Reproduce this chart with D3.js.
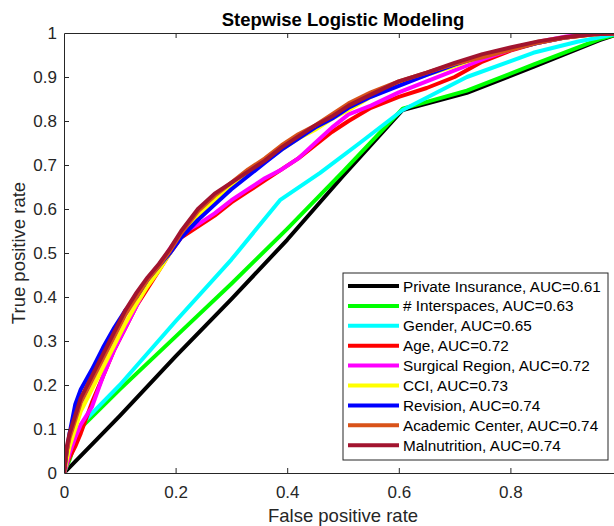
<!DOCTYPE html>
<html>
<head>
<meta charset="utf-8">
<script src="https://cdn.jsdelivr.net/npm/d3@7"></script>
<style>
  body { margin: 0; background: #fff; }
  svg { display: block; font-family: "Liberation Sans", Arial, Helvetica, sans-serif; }
</style>
</head>
<body>
<svg id="chart" width="614" height="526"></svg>
<script>
// shared false positive rate grid for the stepwise model curves
const fprGrid = [0,0.005,0.01,0.02,0.03,0.05,0.07,0.09,0.11,0.13,0.15,0.17,0.19,0.21,0.24,0.27,0.3,0.33,0.36,0.39,0.42,0.45,0.48,0.51,0.55,0.6,0.65,0.7,0.75,0.8,0.85,0.9,0.95,1]

const ageTpr = [0,0.02,0.035,0.06,0.09,0.16,0.22,0.28,0.33,0.38,0.42,0.46,0.5,0.535,0.56,0.585,0.615,0.64,0.665,0.69,0.715,0.745,0.775,0.8,0.83,0.855,0.875,0.9,0.935,0.96,0.978,0.99,0.997,1]
const surgicalTpr = [0,0.02,0.045,0.08,0.11,0.15,0.22,0.28,0.33,0.38,0.43,0.47,0.51,0.545,0.565,0.59,0.62,0.645,0.67,0.69,0.715,0.75,0.785,0.815,0.835,0.865,0.89,0.915,0.94,0.962,0.98,0.992,0.998,1]
const cciTpr = [0,0.03,0.06,0.1,0.14,0.19,0.24,0.29,0.34,0.385,0.425,0.46,0.5,0.54,0.585,0.62,0.65,0.68,0.71,0.735,0.76,0.78,0.805,0.825,0.855,0.885,0.905,0.925,0.948,0.965,0.98,0.99,0.997,1]
const revisionTpr = [0,0.05,0.09,0.155,0.19,0.235,0.285,0.33,0.37,0.4,0.44,0.47,0.5,0.535,0.575,0.61,0.645,0.675,0.705,0.735,0.76,0.785,0.805,0.83,0.855,0.88,0.905,0.928,0.948,0.963,0.978,0.99,0.998,1]
const academicTpr = [0,0.05,0.08,0.12,0.16,0.21,0.26,0.31,0.36,0.4,0.44,0.47,0.505,0.545,0.595,0.63,0.66,0.69,0.715,0.745,0.77,0.79,0.815,0.84,0.865,0.89,0.91,0.93,0.945,0.962,0.978,0.99,0.997,1]
const malnutritionTpr = [0,0.06,0.09,0.13,0.17,0.22,0.27,0.32,0.37,0.41,0.445,0.475,0.51,0.55,0.6,0.635,0.66,0.685,0.71,0.74,0.765,0.79,0.81,0.835,0.86,0.89,0.91,0.932,0.952,0.967,0.981,0.991,0.997,1]

// the first three models have few thresholds, so [fpr, tpr] pairs
const insuranceRoc = [[0,0],[0.1,0.13],[0.2,0.265],[0.3,0.395],[0.4,0.53],[0.5,0.675],[0.607,0.825],[0.722,0.864],[0.841,0.923],[0.96,0.984],[1,1]]
const interspacesRoc = [[0,0],[0.01,0.03],[0.02,0.07],[0.032,0.105],[0.1,0.19],[0.2,0.31],[0.3,0.43],[0.4,0.555],[0.5,0.685],[0.607,0.828],[0.722,0.869],[0.841,0.928],[0.96,0.986],[1,1]]
const genderRoc = [[0,0],[0.01,0.04],[0.02,0.08],[0.032,0.112],[0.1,0.2],[0.2,0.345],[0.3,0.485],[0.387,0.62],[0.459,0.682],[0.53,0.75],[0.607,0.825],[0.722,0.9],[0.841,0.955],[0.92,0.98],[1,1]]

const modelLabels = ['Private Insurance, AUC=0.61', '# Interspaces, AUC=0.63', 'Gender, AUC=0.65', 'Age, AUC=0.72',
    'Surgical Region, AUC=0.72', 'CCI, AUC=0.73', 'Revision, AUC=0.74', 'Academic Center, AUC=0.74', 'Malnutrition, AUC=0.74']
const modelColors = ['#000000', '#00ff00', '#00ffff', '#ff0000', '#ff00ff', '#ffff00', '#0000ff', '#d95319', '#a2142f']

const xTicks = [0, 0.2, 0.4, 0.6, 0.8]
const yTicks = [0, 0.1, 0.2, 0.3, 0.4, 0.5, 0.6, 0.7, 0.8, 0.9, 1]

const gridCurve = tpr => fprGrid.map((f, i) => [f, tpr[i]])
const curves = [insuranceRoc, interspacesRoc, genderRoc, gridCurve(ageTpr), gridCurve(surgicalTpr),
    gridCurve(cciTpr), gridCurve(revisionTpr), gridCurve(academicTpr), gridCurve(malnutritionTpr)]

const svg = d3.select('#chart')
const axisColor = '#262626'
const plot = {left: 64, right: 622, top: 33, bottom: 473}

const x = d3.scaleLinear().domain([0, 1]).range([plot.left, plot.right])
const y = d3.scaleLinear().domain([0, 1]).range([plot.bottom, plot.top])

svg.append('rect').attr('width', 614).attr('height', 526).attr('fill', '#fff')

svg.append('clipPath').attr('id', 'plot-clip')
    .append('rect')
    .attr('x', plot.left).attr('y', plot.top)
    .attr('width', plot.right - plot.left).attr('height', plot.bottom - plot.top)

// curves
const line = d3.line().x(d => x(d[0])).y(d => y(d[1]))
svg.append('g')
    .attr('clip-path', 'url(#plot-clip)')
    .selectAll('path')
    .data(curves)
    .enter()
    .append('path')
    .attr('d', line)
    .attr('fill', 'none')
    .attr('stroke', (d, i) => modelColors[i])
    .attr('stroke-width', 4)
    .attr('stroke-linejoin', 'round')
    .attr('stroke-linecap', 'round')

// axes, ticks point inward like matlab
const bottomAxis = svg.append('g')
    .attr('transform', 'translate(0,' + plot.bottom + ')')
    .call(d3.axisBottom(x).tickValues(xTicks).tickSizeInner(-5).tickSizeOuter(0).tickPadding(13).tickFormat(d3.format('~g')))
const topAxis = svg.append('g')
    .attr('transform', 'translate(0,' + plot.top + ')')
    .call(d3.axisTop(x).tickValues(xTicks.slice(1)).tickSizeInner(-5).tickSizeOuter(0).tickFormat(''))
const leftAxis = svg.append('g')
    .attr('transform', 'translate(' + plot.left + ',0)')
    .call(d3.axisLeft(y).tickValues(yTicks).tickSizeInner(-5).tickSizeOuter(0).tickPadding(7).tickFormat(d3.format('~g')))
const rightAxis = svg.append('g')
    .attr('transform', 'translate(' + plot.right + ',0)')
    .call(d3.axisRight(y).tickValues(yTicks).tickSizeInner(-5).tickSizeOuter(0).tickFormat(''))

;[bottomAxis, topAxis, leftAxis, rightAxis].forEach(g => {
    g.select('.domain').attr('stroke', axisColor).attr('stroke-width', 1)
    g.selectAll('.tick line').attr('stroke', axisColor)
    g.selectAll('.tick text').attr('fill', axisColor).style('font-size', '17px')
})
bottomAxis.selectAll('.tick line').filter(d => d === 0).remove()
leftAxis.selectAll('.tick line').filter(d => d === 0 || d === 1).remove()

// title and axis labels
svg.append('text')
    .attr('x', (plot.left + plot.right) / 2).attr('y', 26)
    .attr('text-anchor', 'middle')
    .style('font-size', '18.5px').style('font-weight', 'bold')
    .attr('fill', '#000')
    .text('Stepwise Logistic Modeling')

svg.append('text')
    .attr('x', (plot.left + plot.right) / 2).attr('y', 522)
    .attr('text-anchor', 'middle')
    .style('font-size', '18.5px')
    .attr('fill', axisColor)
    .text('False positive rate')

svg.append('text')
    .attr('transform', 'translate(25,' + (plot.top + plot.bottom) / 2 + ') rotate(-90)')
    .attr('text-anchor', 'middle')
    .style('font-size', '18.5px')
    .attr('fill', axisColor)
    .text('True positive rate')

// legend
const legend = svg.append('g').attr('transform', 'translate(343,273)')
legend.append('rect')
    .attr('width', 265).attr('height', 187)
    .attr('fill', '#fff').attr('stroke', axisColor).attr('stroke-width', 1)

const rows = legend.selectAll('.legend-row')
    .data(modelLabels)
    .enter()
    .append('g')
    .attr('class', 'legend-row')
    .attr('transform', (d, i) => 'translate(0,' + (13 + i * 19.9) + ')')
rows.append('line')
    .attr('x1', 5).attr('x2', 56)
    .attr('stroke', (d, i) => modelColors[i])
    .attr('stroke-width', 4)
rows.append('text')
    .attr('x', 60).attr('y', 5.5)
    .style('font-size', '15.3px')
    .attr('fill', '#000')
    .text(d => d)
</script>
</body>
</html>
